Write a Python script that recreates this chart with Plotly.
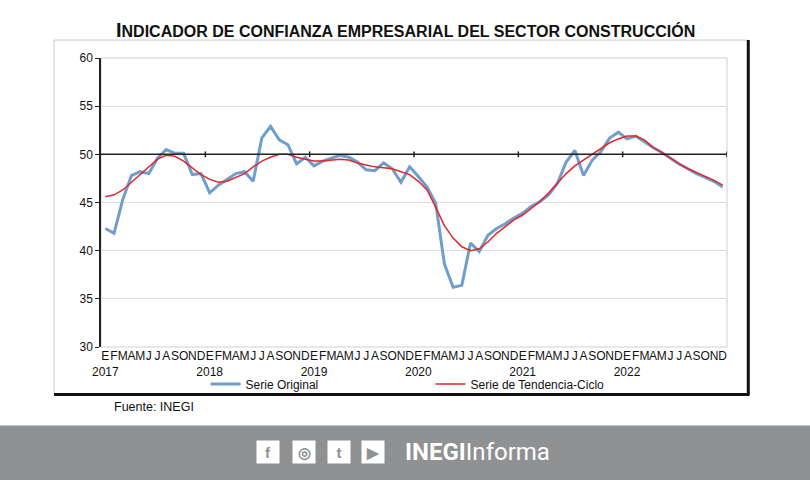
import plotly.graph_objects as go

# Months and years of the series (enero 2017 - diciembre 2022)
years = [2017, 2018, 2019, 2020, 2021, 2022]
month_letters = ["E", "F", "M", "A", "M", "J", "J", "A", "S", "O", "N", "D"]

# Serie original
serie_original = [
    42.3, 41.8, 45.3, 47.8, 48.2, 48.0, 49.6, 50.5, 50.1, 50.1, 47.9, 48.0,
    46.0, 46.8, 47.4, 48.0, 48.2, 47.2, 51.7, 52.9, 51.5, 51.0, 49.0, 49.7,
    48.8, 49.3, 49.6, 49.9, 49.7, 49.2, 48.4, 48.3, 49.1, 48.5, 47.1, 48.7,
    47.7, 46.6, 44.9, 38.6, 36.2, 36.4, 40.8, 39.9, 41.6, 42.3, 42.8, 43.4,
    43.9, 44.6, 45.1, 45.8, 47.0, 49.2, 50.4, 47.8, 49.4, 50.3, 51.7, 52.3,
    51.6, 51.9, 51.3, 50.7, 50.2, 49.6, 49.0, 48.5, 48.0, 47.6, 47.2, 46.6,
]

# Serie de tendencia-ciclo
serie_tendencia = [
    45.6, 45.8, 46.3, 47.1, 48.0, 48.8, 49.5, 49.9, 49.8, 49.3, 48.6, 47.9,
    47.4, 47.1, 47.2, 47.6, 48.0, 48.7, 49.3, 49.7, 50.0, 50.0, 49.7, 49.5,
    49.3, 49.3, 49.4, 49.5, 49.4, 49.1, 48.9, 48.7, 48.6, 48.5, 48.2, 47.9,
    47.2, 46.3, 44.5, 42.6, 41.3, 40.4, 40.0, 40.2, 40.9, 41.8, 42.5, 43.2,
    43.7, 44.4, 45.1, 46.0, 47.0, 48.0, 48.8, 49.4, 50.0, 50.6, 51.2, 51.6,
    51.9, 51.9, 51.5, 50.7, 50.2, 49.6, 49.0, 48.5, 48.1, 47.7, 47.3, 46.8,
]

x = list(range(len(serie_original)))
tick_text = []
for i in x:
    letter = month_letters[i % 12]
    if i % 12 == 0:
        letter = letter + "<br>" + str(years[i // 12])
    tick_text.append(letter)

fig = go.Figure()
fig.add_trace(go.Scatter(x=x, y=serie_original, mode="lines", name="Serie Original",
                         line=dict(color="#6f9ecb", width=3)))
fig.add_trace(go.Scatter(x=x, y=serie_tendencia, mode="lines", name="Serie de Tendencia-Ciclo",
                         line=dict(color="#e3262d", width=1.5)))

shapes = []
# outer frame, light top/left, dark shadow right/bottom
shapes.append(dict(type="line", xref="paper", yref="paper", x0=-0.075, x1=1.033, y0=1.062, y1=1.062,
                   line=dict(color="#c8c8c8", width=1)))
shapes.append(dict(type="line", xref="paper", yref="paper", x0=-0.075, x1=-0.075, y0=1.062, y1=-0.163,
                   line=dict(color="#c8c8c8", width=1)))
shapes.append(dict(type="line", xref="paper", yref="paper", x0=1.034, x1=1.034, y0=1.062, y1=-0.165,
                   line=dict(color="#111111", width=3)))
shapes.append(dict(type="line", xref="paper", yref="paper", x0=-0.075, x1=1.036, y0=-0.164, y1=-0.164,
                   line=dict(color="#111111", width=3)))
# plot area border
shapes.append(dict(type="rect", xref="paper", yref="paper", x0=0, x1=1, y0=0, y1=1,
                   line=dict(color="#d0d0d0", width=1), layer="below"))
# axis line crossing at 50 with year ticks
shapes.append(dict(type="line", xref="x", yref="y", x0=-0.5, x1=len(x) - 0.5, y0=50, y1=50,
                   line=dict(color="#222222", width=1.5)))
for k in range(1, len(years) + 1):
    xb = 12 * k - 0.5
    shapes.append(dict(type="line", xref="x", yref="y", x0=xb, x1=xb, y0=49.7, y1=50.3,
                       line=dict(color="#222222", width=1.5)))
# footer band
shapes.append(dict(type="rect", xref="paper", yref="paper", x0=-0.2, x1=1.2, y0=-0.272, y1=-0.5,
                   fillcolor="#8f9193", line=dict(width=0), layer="below"))

annotations = []
annotations.append(dict(xref="paper", yref="paper", x=0.487, y=1.098, xanchor="center", yanchor="middle",
                        showarrow=False,
                        text="<b><span style='font-size:20px'>I</span>NDICADOR DE CONFIANZA EMPRESARIAL DEL SECTOR CONSTRUCCIÓN</b>",
                        font=dict(family="Arial", size=16, color="#111111")))
annotations.append(dict(xref="paper", yref="paper", x=0.018, y=-0.208, xanchor="left", yanchor="middle",
                        showarrow=False, text="Fuente: INEGI",
                        font=dict(family="Arial", size=12.5, color="#111111")))
# social icons in the footer
icons = ["<b>f</b>", "<b>◎</b>", "<b>t</b>", "<b>▶</b>"]
icon_x = [0.2668, 0.3243, 0.3802, 0.4345]
for t, xi in zip(icons, icon_x):
    annotations.append(dict(xref="paper", yref="paper", x=xi, y=-0.363, xanchor="center", yanchor="middle",
                            showarrow=False, text=t, bgcolor="#ffffff", width=20, height=20,
                            font=dict(family="Arial", size=15, color="#8f9193")))
annotations.append(dict(xref="paper", yref="paper", x=0.482, y=-0.363, xanchor="left", yanchor="middle",
                        showarrow=False, text="<b>INEGI</b>Informa",
                        font=dict(family="Roboto", size=24, color="#ffffff")))

fig.update_layout(
    width=810, height=480,
    margin=dict(l=101, r=83, t=58, b=133, autoexpand=False),
    paper_bgcolor="white", plot_bgcolor="white",
    showlegend=True,
    legend=dict(orientation="h", x=0.167, y=-0.128, xanchor="left", yanchor="middle",
                entrywidth=180, entrywidthmode="pixels",
                font=dict(family="Arial", size=12, color="#111111"), bgcolor="rgba(0,0,0,0)"),
    xaxis=dict(range=[-0.5, len(x) - 0.5], tickmode="array", tickvals=x, ticktext=tick_text,
               tickangle=0, automargin=False,
               showgrid=False, zeroline=False, showline=False, ticks="",
               tickfont=dict(family="Arial", size=12, color="#111111")),
    yaxis=dict(range=[30, 60], dtick=5, showgrid=True, gridcolor="#dcdcdc", gridwidth=1,
               automargin=False,
               zeroline=False, showline=True, linecolor="#222222", linewidth=1.5,
               ticks="outside", ticklen=4, tickcolor="#222222",
               tickfont=dict(family="Arial", size=12, color="#111111")),
    shapes=shapes,
    annotations=annotations,
)

# drop the default page margin so the figure fills the window
fig.write_html("out.html", config={"displayModeBar": False},
               post_script="document.body.style.margin='0';")
